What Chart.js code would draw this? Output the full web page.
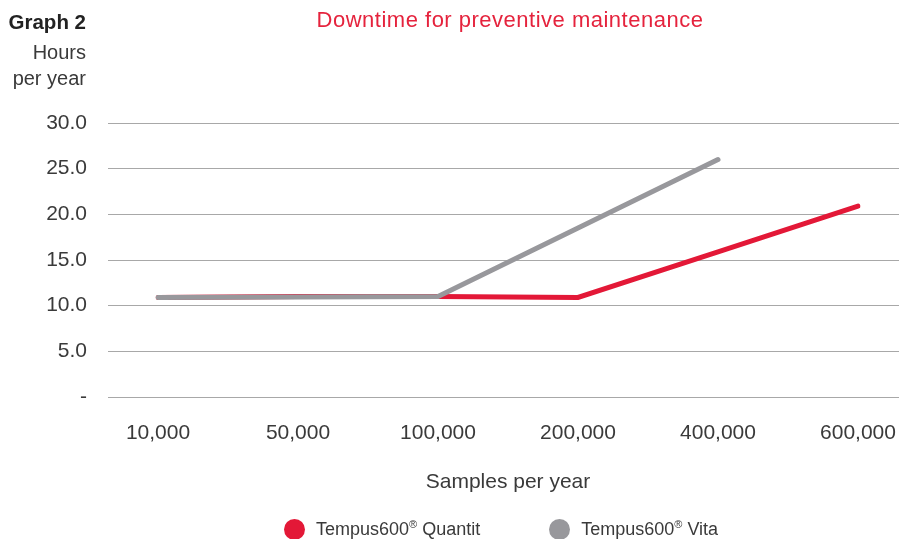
<!DOCTYPE html>
<html>
<head>
<meta charset="utf-8">
<script src="https://cdn.jsdelivr.net/npm/chart.js@4.4.1/dist/chart.umd.min.js"></script>
<style>
  html, body { margin: 0; padding: 0; background: #fff; }
  body { width: 899px; height: 539px; position: relative; overflow: hidden;
         font-family: "Liberation Sans", Arial, sans-serif; color: #3a3a3a; }
  #wrap { position: absolute; left: 0; top: 0; width: 899px; height: 539px; }
  .graph-no { position: absolute; right: 813px; top: 10px; font-size: 20.5px; font-weight: bold; color: #222; white-space: nowrap; }
  .unit { position: absolute; right: 813px; top: 39px; font-size: 20px; line-height: 26px; text-align: right; white-space: nowrap; }
  .title { position: absolute; left: 0; width: 1020px; top: 7px; text-align: center; font-size: 22px; letter-spacing: 0.5px; color: #e5233d; }
  .legend { position: absolute; left: 284px; top: 518px; display: flex; font-size: 18px; white-space: nowrap; }
  .legend span.item { display: flex; align-items: center; margin-right: 69px; }
  .legend i { display: inline-block; width: 21px; height: 21px; border-radius: 50%; margin-right: 11px; }
  .legend sup { font-size: 11px; }
</style>
</head>
<body>
<div id="wrap"><canvas id="chart" width="899" height="539"></canvas></div>
<div class="graph-no">Graph 2</div>
<div class="unit">Hours<br>per year</div>
<div class="title">Downtime for preventive maintenance</div>
<div class="legend" id="legend"></div>
<script>
// Данные графика
const categories = ['10,000', '50,000', '100,000', '200,000', '400,000', '600,000'];
const quantitHours = [10.9, 11.0, 11.0, 10.9, 15.9, 20.9];
const vitaHours = [10.9, 10.95, 11.0, 18.5, 26.0, null];
const yTicks = [0, 5, 10, 15, 20, 25, 30];

const seriesNames = ['Tempus600® Quantit', 'Tempus600® Vita'];
const seriesColors = ['#e31837', '#98989c'];

const gridColor = '#a8a8a8';
const textColor = '#3a3a3a';
const font = { family: '"Liberation Sans", Arial, sans-serif', size: 21 };

// Легенда
const legendBox = document.getElementById('legend');
seriesNames.forEach((name, i) => {
  const item = document.createElement('span');
  item.className = 'item';
  const dot = document.createElement('i');
  dot.style.background = seriesColors[i];
  item.appendChild(dot);
  const label = document.createElement('span');
  label.innerHTML = name.replace('®', '<sup>®</sup>');
  item.appendChild(label);
  legendBox.appendChild(item);
});

const ctx = document.getElementById('chart').getContext('2d');
new Chart(ctx, {
  type: 'line',
  data: {
    labels: categories,
    datasets: [
      {
        label: seriesNames[0],
        data: quantitHours,
        borderColor: seriesColors[0],
        backgroundColor: seriesColors[0],
        borderWidth: 5,
        borderCapStyle: 'round',
        pointRadius: 0,
        tension: 0,
        order: 1
      },
      {
        label: seriesNames[1],
        data: vitaHours,
        borderColor: seriesColors[1],
        backgroundColor: seriesColors[1],
        borderWidth: 5,
        borderCapStyle: 'round',
        pointRadius: 0,
        tension: 0,
        order: 0
      }
    ]
  },
  options: {
    responsive: false,
    animation: false,
    layout: { padding: { top: 123, bottom: 44, left: 0, right: 0 } },
    plugins: {
      legend: { display: false },
      title: { display: false },
      tooltip: { enabled: false }
    },
    scales: {
      x: {
        offset: false,
        grid: { display: false, drawTicks: false },
        border: { display: false },
        ticks: { color: textColor, font: font, padding: 24, maxRotation: 0, autoSkip: false },
        title: { display: true, text: 'Samples per year', color: textColor, font: font, padding: 0 },
        afterFit: scale => {
          scale.height = 98;
          scale.paddingLeft = 0;
          scale.paddingRight = 0;
        }
      },
      y: {
        min: 0,
        max: 30,
        afterBuildTicks: scale => { scale.ticks = yTicks.map(v => ({ value: v })); },
        grid: { color: gridColor, lineWidth: 1, drawTicks: true, tickLength: 50 },
        border: { display: false },
        ticks: {
          color: textColor,
          font: font,
          padding: 21,
          callback: v => (v === 0 ? '-' : v.toFixed(1))
        },
        afterFit: scale => { scale.width = 158; }
      },
      y2: {
        position: 'right',
        min: 0,
        max: 30,
        afterBuildTicks: scale => { scale.ticks = yTicks.map(v => ({ value: v })); },
        grid: { color: gridColor, lineWidth: 1, drawOnChartArea: false, drawTicks: true, tickLength: 41 },
        border: { display: false },
        ticks: { display: false },
        afterFit: scale => { scale.width = 41; }
      }
    }
  }
});
</script>
</body>
</html>
